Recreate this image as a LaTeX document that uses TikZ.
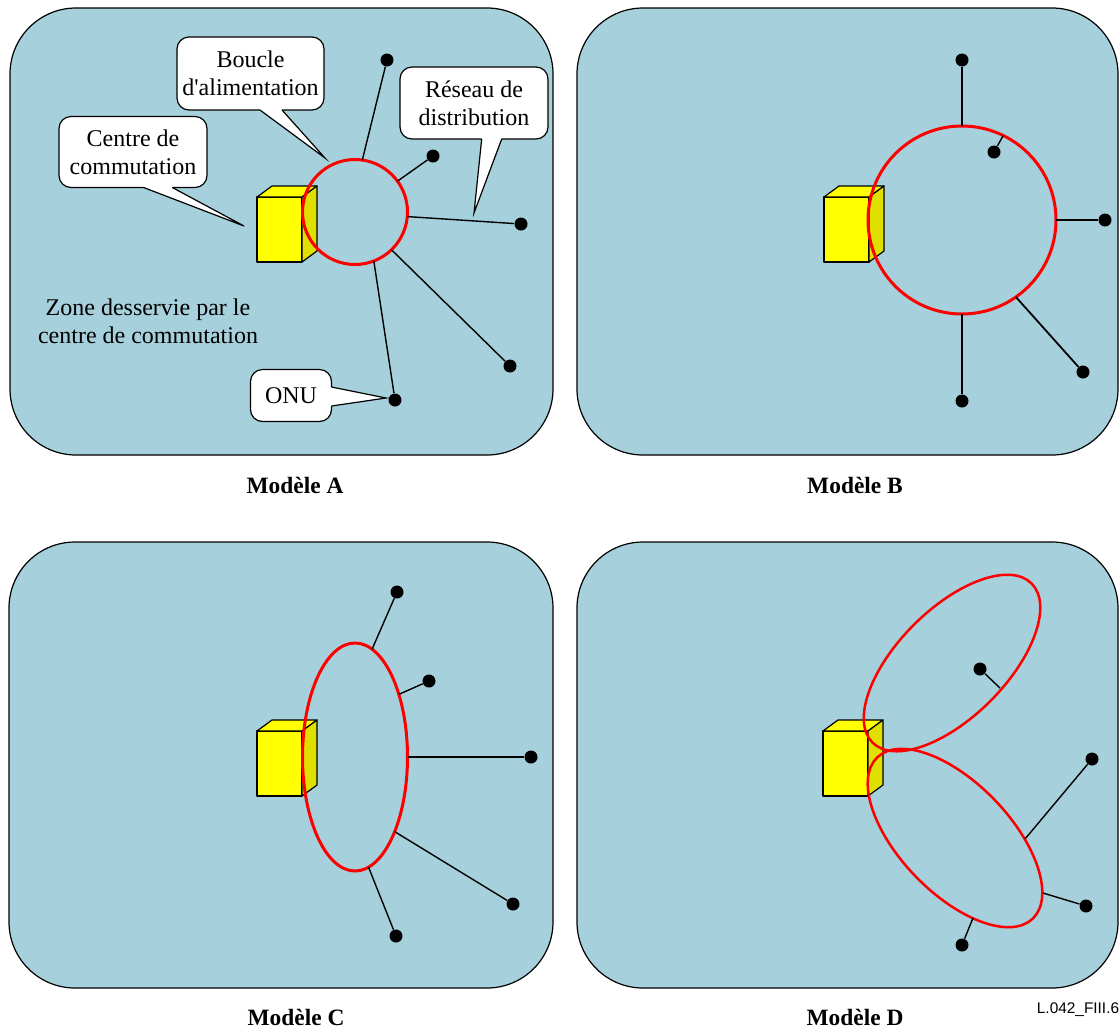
\documentclass[tikz,border=0pt]{standalone}
\usepackage{fontspec}
\setmainfont{Liberation Serif}
\newfontfamily\sansref{Liberation Sans}
\usetikzlibrary{shapes.geometric}
\definecolor{fond}{RGB}{166,208,219}
\definecolor{rouge}{RGB}{255,0,0}
\definecolor{jaune}{RGB}{255,255,0}
\definecolor{jauneombre}{RGB}{224,224,0}

\begin{document}
\begin{tikzpicture}[x=0.5pt,y=-0.5pt,
    every node/.style={font=\fontsize{12pt}{14pt}\selectfont},
    zone/.style={draw=black,fill=fond,line width=0.6pt,rounded corners=33pt},
    cube/.style={line width=0.6pt,line join=round},
    anneau/.style={draw=rouge,line width=1.5pt,inner sep=0pt,outer sep=0pt},
    boucle/.style={draw=rouge,line width=1.25pt},
    onu/.style={circle,fill=black,inner sep=0pt,minimum size=6.5pt},
    fil/.style={line width=0.7pt},
    bulle/.style={draw=black,fill=white,rounded corners=6pt,line width=0.6pt,
                  align=center,inner sep=0pt,outer sep=0pt},
    bord/.style={line width=0.6pt,line join=miter},
    titre/.style={font=\fontsize{11.7pt}{14pt}\selectfont\bfseries}]

\useasboundingbox (0,0) rectangle (1120,1030);

% les quatre zones
\draw[zone] (10,8) rectangle (553,455);
\draw[zone] (577,8) rectangle (1118,455);
\draw[zone] (9,542) rectangle (553,988);
\draw[zone] (577,542) rectangle (1118,988);

% centre de commutation
\foreach \x/\y in {257/197,824/197,257/731,823/731}
{   \filldraw[cube,fill=jaune] (\x,\y) rectangle (\x+45,\y+65);
    \filldraw[cube,fill=jaune] (\x,\y) -- (\x+15,\y-11) -- (\x+60,\y-11) -- (\x+45,\y) -- cycle;
    \filldraw[cube,fill=jauneombre] (\x+45,\y) -- (\x+60,\y-11) -- (\x+60,\y+54) -- (\x+45,\y+65) -- cycle;
}

% Modele A
\node[anneau,circle,minimum size=52.5pt] (anneauA) at (355,212) {};
\node[onu] (a1) at (387,60) {};
\node[onu] (a2) at (433,156) {};
\node[onu] (a3) at (521,224) {};
\node[onu] (a4) at (510,366) {};
\node[onu] (a5) at (395,400) {};
\draw[fil] (anneauA.82) -- (a1);
\draw[fil] (anneauA.36) -- (a2);
\draw[fil] (anneauA.-5) -- (a3);
\draw[fil] (anneauA.-46) -- (a4);
\draw[fil] (anneauA.-69) -- (a5);

\node[bulle,minimum width=73.5pt,minimum height=36.5pt] (boucle) at (250.5,73.5) {Boucle\\d\textquotesingle alimentation};
\coordinate (pBoucle) at (325,158);
\fill[white] ([xshift=4.75pt,yshift=1pt]boucle.south) -- ([xshift=4.75pt]boucle.south) -- (pBoucle)
    -- ([xshift=15.75pt]boucle.south) -- ([xshift=15.75pt,yshift=1pt]boucle.south) -- cycle;
\draw[bord] ([xshift=4.75pt]boucle.south) -- (pBoucle) -- ([xshift=15.75pt]boucle.south);

\node[bulle,minimum width=74pt,minimum height=35.5pt] (centre) at (133,152) {Centre de\\commutation};
\coordinate (pCentre) at (244,226);
\fill[white] ([xshift=5.3pt,yshift=1pt]centre.south) -- ([xshift=5.3pt]centre.south) -- (pCentre)
    -- ([xshift=19.65pt]centre.south) -- ([xshift=19.65pt,yshift=1pt]centre.south) -- cycle;
\draw[bord] ([xshift=5.3pt]centre.south) -- (pCentre) -- ([xshift=19.65pt]centre.south);

\node[bulle,minimum width=74pt,minimum height=36pt] (reseau) at (474,103) {Réseau de\\distribution};
\coordinate (pReseau) at (474,213);
\fill[white] ([xshift=3.85pt,yshift=1pt]reseau.south) -- ([xshift=3.85pt]reseau.south) -- (pReseau)
    -- ([xshift=13.85pt]reseau.south) -- ([xshift=13.85pt,yshift=1pt]reseau.south) -- cycle;
\draw[bord] ([xshift=3.85pt]reseau.south) -- (pReseau) -- ([xshift=13.85pt]reseau.south);

\node[bulle,minimum width=40.5pt,minimum height=26pt] (onuA) at (291,395.5) {ONU};
\coordinate (pOnu) at (386,398);
\fill[white] ([xshift=-1pt,yshift=4.25pt]onuA.east) -- ([yshift=4.25pt]onuA.east) -- (pOnu)
    -- ([yshift=-5.25pt]onuA.east) -- ([xshift=-1pt,yshift=-5.25pt]onuA.east) -- cycle;
\draw[bord] ([yshift=4.25pt]onuA.east) -- (pOnu) -- ([yshift=-5.25pt]onuA.east);

\node[align=center] (zone) at (148,321) {Zone desservie par le\\centre de commutation};

% Modele B
\node[anneau,circle,minimum size=94pt] (anneauB) at (962,220) {};
\node[onu] (b1) at (962,60) {};
\node[onu] (b2) at (994,152) {};
\node[onu] (b3) at (1105,220) {};
\node[onu] (b4) at (1083,372) {};
\node[onu] (b5) at (962,401) {};
\draw[fil,line width=1pt] (anneauB.90) -- (b1);
\draw[fil] (anneauB.64) -- (b2);
\draw[fil,line width=1pt] (anneauB.0) -- (b3);
\draw[fil,line width=0.9pt] (anneauB.-55) -- (b4);
\draw[fil,line width=1pt] (anneauB.-90) -- (b5);

% Modele C
\node[anneau,ellipse,minimum width=52.5pt,minimum height=114pt] (anneauC) at (355,757) {};
\node[onu] (c1) at (397,592) {};
\node[onu] (c2) at (429,681) {};
\node[onu] (c3) at (531,757) {};
\node[onu] (c4) at (513,904) {};
\node[onu] (c5) at (396,936) {};
\draw[fil] (anneauC.81) -- (c1);
\draw[fil] (anneauC.55) -- (c2);
\draw[fil,line width=1pt] (anneauC.0) -- (c3);
\draw[fil] (anneauC.-62) -- (c4);
\draw[fil] (anneauC.-83) -- (c5);

% Modele D
\draw[boucle,rotate around={45:(952,663)}] (952,663) ellipse [x radius=56.25pt,y radius=27pt];
\draw[boucle,rotate around={-46:(955,838)}] (955,838) ellipse [x radius=56pt,y radius=27.5pt];
\coordinate (e1) at (1000,688);
\coordinate (e2) at (1025,839);
\coordinate (e3) at (1043,893);
\coordinate (e4) at (973,918);
\node[onu] (d1) at (980,669) {};
\node[onu] (d2) at (1092,759) {};
\node[onu] (d3) at (1086,906) {};
\node[onu] (d4) at (962,945) {};
\draw[fil] (e1) -- (d1);
\draw[fil] (e2) -- (d2);
\draw[fil] (e3) -- (d3);
\draw[fil] (e4) -- (d4);

% titres
\node[titre] (modA) at (295,485) {Modèle A};
\node[titre] (modB) at (855,485) {Modèle B};
\node[titre] (modC) at (296,1017) {Modèle C};
\node[titre] (modD) at (855,1017) {Modèle D};
\node[font=\sansref\fontsize{7.7pt}{9pt}\selectfont] (ref) at (1078,1010) {L.042\_FIII.6};
\end{tikzpicture}
\end{document}
